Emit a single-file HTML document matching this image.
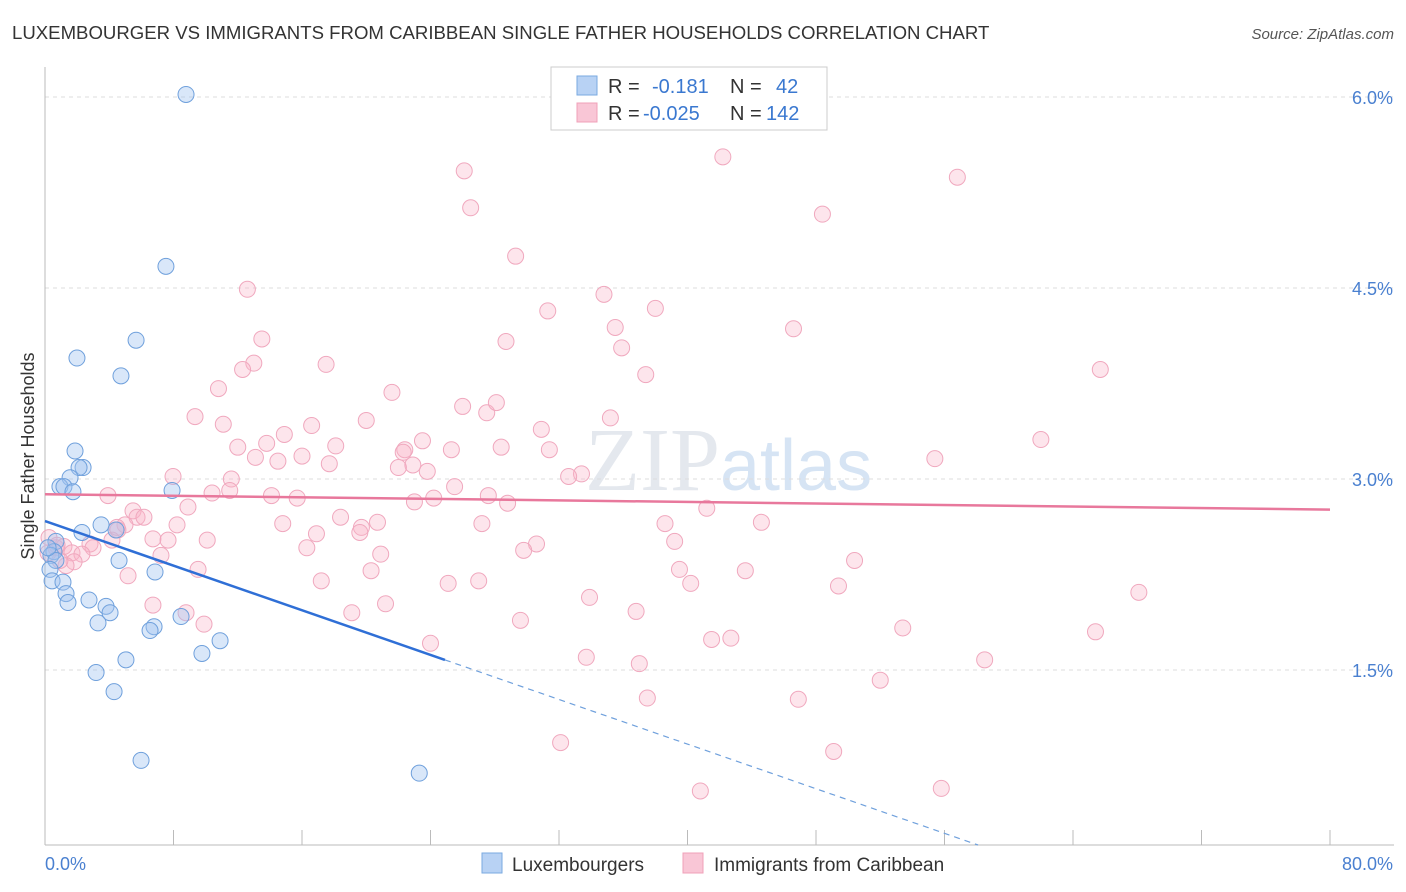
<!DOCTYPE html>
<html><head><meta charset="utf-8"><style>
body{margin:0;background:#fff;font-family:"Liberation Sans",sans-serif;}
#wrap{position:relative;width:1406px;height:892px;overflow:hidden;}
</style></head><body>
<div id="wrap">
<svg id="chart" width="1406" height="892" xmlns="http://www.w3.org/2000/svg">
<text x="12" y="39" font-size="18.6" fill="#333">LUXEMBOURGER VS IMMIGRANTS FROM CARIBBEAN SINGLE FATHER HOUSEHOLDS CORRELATION CHART</text>
<text x="1394" y="39" font-size="15" fill="#555" font-style="italic" text-anchor="end">Source: ZipAtlas.com</text>
<text x="720" y="490" font-size="90" fill="#e4e8ee" text-anchor="end" font-family="Liberation Serif">ZIP</text>
<text x="720" y="490" font-size="72" fill="#d6e4f4">atlas</text>
<text transform="translate(34,456) rotate(-90)" font-size="18" fill="#333" text-anchor="middle">Single Father Households</text>
<g id="grid"></g><g id="axes"></g><g id="pts"></g><g id="lines"></g>
<g>
<rect x="551" y="67" width="276" height="63" fill="#fff" stroke="#ccc"/>
<rect x="577" y="76" width="20" height="19" fill="#b8d2f4" stroke="#7aaae0"/>
<rect x="577" y="103" width="20" height="19" fill="#f9c6d6" stroke="#f0a0b8"/>
<text x="608" y="93" font-size="20" fill="#333">R = </text><text x="652" y="93" font-size="20" fill="#3a78d0">-0.181</text>
<text x="730" y="93" font-size="20" fill="#333">N = </text><text x="776" y="93" font-size="20" fill="#3a78d0">42</text>
<text x="608" y="120" font-size="20" fill="#333">R = </text><text x="643" y="120" font-size="20" fill="#3a78d0">-0.025</text>
<text x="730" y="120" font-size="20" fill="#333">N = </text><text x="766" y="120" font-size="20" fill="#3a78d0">142</text>
</g>
<g>
<rect x="482" y="853" width="20" height="20" fill="#b8d2f4" stroke="#7aaae0"/>
<text x="512" y="871" font-size="19" fill="#333">Luxembourgers</text>
<rect x="683" y="853" width="20" height="20" fill="#f9c6d6" stroke="#f0a0b8"/>
<text x="714" y="871" font-size="19" fill="#333">Immigrants from Caribbean</text>
</g>
</svg>
</div>
<script>
const blueX=[8.78,7.53,5.67,1.99,4.73,1.87,2.37,2.12,1.56,0.93,1.18,1.74,7.91,3.49,2.30,4.42,0.68,0.56,0.37,0.68,4.61,0.31,6.85,0.44,1.12,1.31,1.43,2.74,3.80,4.05,3.30,6.79,6.54,8.47,10.9,9.77,5.04,3.18,4.30,5.98,23.3,0.19];
const blueY=[6.02,4.67,4.09,3.95,3.81,3.22,3.09,3.09,3.01,2.94,2.94,2.90,2.91,2.64,2.58,2.60,2.51,2.43,2.40,2.36,2.36,2.29,2.27,2.20,2.19,2.10,2.03,2.05,2.00,1.95,1.87,1.84,1.81,1.92,1.73,1.63,1.58,1.48,1.33,0.79,0.69,2.46];
const pinkX=[42.2,26.1,56.8,26.5,48.4,29.3,12.6,34.8,31.3,38.0,35.5,46.6,13.5,28.7,35.9,13.0,17.5,12.3,65.7,37.4,10.8,21.6,26.0,9.34,27.5,28.1,35.2,20.0,11.1,16.6,30.9,14.9,12.0,18.1,13.8,13.1,23.5,22.4,25.3,28.4,31.4,62.0,16.0,14.5,22.3,55.4,17.7,22.9,22.0,23.8,33.4,32.6,7.97,11.6,25.5,10.4,14.1,15.7,11.5,27.6,3.92,24.2,23.0,28.8,8.9,5.48,5.73,6.16,4.98,14.8,20.7,27.2,38.6,44.6,41.2,18.4,19.7,8.22,4.54,16.9,4.17,19.6,2.80,2.99,0.25,0.68,1.18,6.72,10.1,7.66,30.6,39.2,16.3,29.8,20.9,1.68,2.30,7.22,0.75,1.81,1.31,9.53,39.5,20.3,43.6,50.4,5.17,17.2,27.0,25.1,40.2,49.4,68.1,33.9,6.72,21.2,19.1,36.8,8.78,29.6,9.9,53.4,65.4,24.0,41.5,42.7,33.7,37.0,58.5,52.0,37.5,46.9,32.1,49.1,40.8,55.8,4.48,0.93,0.19];
const pinkY=[5.53,5.42,5.37,5.13,5.08,4.75,4.49,4.45,4.32,4.34,4.19,4.18,4.10,4.08,4.03,3.91,3.90,3.86,3.86,3.82,3.71,3.68,3.57,3.49,3.52,3.60,3.48,3.46,3.43,3.42,3.39,3.35,3.25,3.26,3.28,3.17,3.30,3.23,3.23,3.25,3.23,3.31,3.18,3.14,3.21,3.16,3.12,3.11,3.09,3.06,3.04,3.02,3.02,3.00,2.94,2.89,2.87,2.85,2.91,2.87,2.87,2.85,2.82,2.81,2.78,2.75,2.70,2.70,2.64,2.65,2.66,2.65,2.65,2.66,2.77,2.70,2.62,2.64,2.60,2.57,2.52,2.58,2.49,2.46,2.54,2.46,2.47,2.53,2.52,2.52,2.49,2.51,2.46,2.44,2.41,2.42,2.41,2.40,2.48,2.35,2.32,2.29,2.29,2.28,2.28,2.36,2.24,2.20,2.20,2.18,2.18,2.16,2.11,2.07,2.01,2.02,1.95,1.96,1.95,1.89,1.86,1.83,1.80,1.71,1.74,1.75,1.60,1.55,1.58,1.42,1.28,1.27,0.93,0.86,0.55,0.57,2.62,2.36,2.42];
const yTicks=[1.5,3.0,4.5,6.0];
const yTickLabels=["1.5%","3.0%","4.5%","6.0%"];
const xTicks=[0,8,16,24,32,40,48,56,64,72,80];
const blueTrend=[2.67,-0.0438];
const pinkTrend=[2.88,-0.0015];
const NS="http://www.w3.org/2000/svg";
const X=v=>45+v*1285/80, Y=v=>861-v*127.33;
function mk(tag,attrs,parent){const e=document.createElementNS(NS,tag);for(const k in attrs)e.setAttribute(k,attrs[k]);document.getElementById(parent).appendChild(e);return e;}
yTicks.forEach((t,i)=>{
 const g=mk('line',{x1:45,x2:1394,y1:Y(t),y2:Y(t),stroke:'#ddd','stroke-dasharray':'4,4'},'grid');
 
 
 const l=mk('text',{x:1393,y:Y(t)+7,'font-size':18,fill:'#4a80d0','text-anchor':'end'},'axes');
 l.textContent=yTickLabels[i];
 
 
});
const ax=mk('line',{x1:45,x2:45,y1:67,y2:845,stroke:'#bbb'},'axes');


const bx=mk('line',{x1:45,x2:1394,y1:845,y2:845,stroke:'#bbb'},'axes');


xTicks.forEach(t=>{
 const k=mk('line',{x1:X(t),x2:X(t),y1:830,y2:845,stroke:'#bbb'},'axes');
 
 
});
const xl0=mk('text',{x:45,y:870,'font-size':18,fill:'#4a80d0'},'axes');xl0.textContent='0.0%';


const xl1=mk('text',{x:1393,y:870,'font-size':18,fill:'#4a80d0','text-anchor':'end'},'axes');xl1.textContent='80.0%';


pinkX.forEach((x,i)=>{
 const c=mk('circle',{cx:X(x),cy:Y(pinkY[i]),r:8,fill:'rgba(248,180,200,0.35)',stroke:'#f0a8be','stroke-width':1},'pts');
 
 
});
blueX.forEach((x,i)=>{
 const c=mk('circle',{cx:X(x),cy:Y(blueY[i]),r:8,fill:'rgba(160,196,240,0.4)',stroke:'#6fa0dc','stroke-width':1},'pts');
 
 
});
const pl=mk('line',{x1:X(0),y1:Y(pinkTrend[0]),x2:X(80),y2:Y(pinkTrend[0]+pinkTrend[1]*80),stroke:'#e8789c','stroke-width':2.5},'lines');


const bl=mk('line',{x1:X(0),y1:Y(blueTrend[0]),x2:X(24.9),y2:Y(blueTrend[0]+blueTrend[1]*24.9),stroke:'#2f6fd6','stroke-width':2.5},'lines');


const yEnd=(861-845)/127.33;
const xe=(blueTrend[0]-yEnd)/-blueTrend[1];
const bd=mk('line',{x1:X(24.9),y1:Y(blueTrend[0]+blueTrend[1]*24.9),x2:X(xe),y2:Y(blueTrend[0]+blueTrend[1]*xe),stroke:'#6fa0dc','stroke-width':1.2,'stroke-dasharray':'6,5'},'lines');


</script>
</body></html>
